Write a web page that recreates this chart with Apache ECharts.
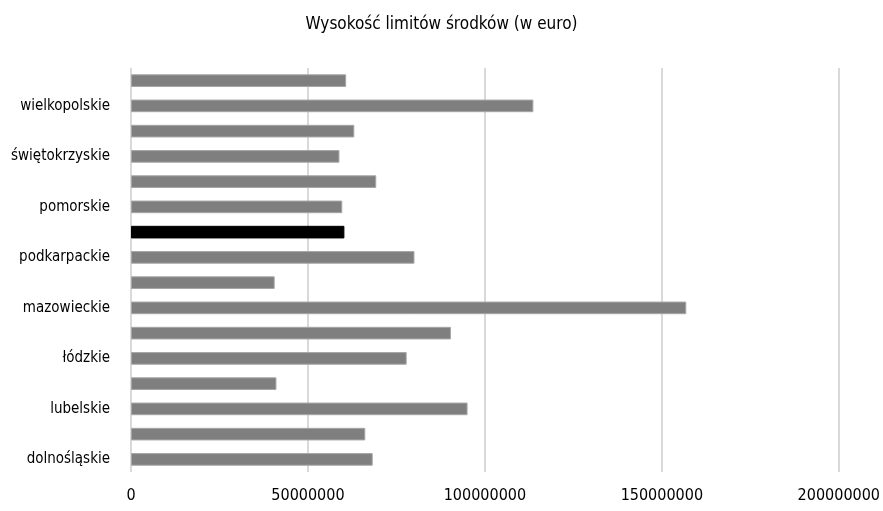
<!DOCTYPE html>
<html><head><meta charset="utf-8">
<script src="https://cdn.jsdelivr.net/npm/echarts@6/dist/echarts.min.js"></script>
<style>html,body{margin:0;padding:0;background:#fff}#c{width:883px;height:511px}</style>
</head><body><div id="c"></div>
<script>
const categories = ['dolnośląskie','kujawsko-pomorskie','lubelskie','lubuskie','łódzkie','małopolskie','mazowieckie','opolskie','podkarpackie','podlaskie','pomorskie','śląskie','świętokrzyskie','warmińsko-mazurskie','wielkopolskie','zachodniopomorskie'];
const values = [68300000,66200000,95100000,41100000,77900000,90400000,156900000,40600000,80100000,60300000,59700000,69300000,58900000,63100000,113700000,60800000];
const highlight = 'podlaskie';
const xTicks = {min:0, max:200000000, interval:50000000};
const title = 'Wysokość limitów środków (w euro)';

const FONT = '"DejaVu Sans Condensed","Liberation Sans Narrow",sans-serif';
const chart = echarts.init(document.getElementById('c'));
chart.setOption({
  animation:false,
  title:{text:title,left:'center',top:11,textStyle:{fontFamily:FONT,fontSize:17,fontWeight:'normal',color:'#000'}},
  grid:{left:131,right:43,top:68,bottom:39,containLabel:false},
  xAxis:{type:'value',min:xTicks.min,max:xTicks.max,interval:xTicks.interval,
    axisLine:{show:false},axisTick:{show:false},
    splitLine:{lineStyle:{color:'#d9d9d9',width:2}},
    axisLabel:{margin:16,fontFamily:FONT,fontSize:16,color:'#000',formatter:v=>String(v)}},
  yAxis:{type:'category',data:categories,
    axisLine:{show:false},axisTick:{show:false},
    axisLabel:{interval:1,margin:21,fontFamily:FONT,fontSize:15,color:'#000'}},
  series:[{type:'bar',barWidth:'50%',
    data:values.map((v,i)=>({value:v,itemStyle:{color:categories[i]===highlight?'#000':'#7f7f7f',borderColor:categories[i]===highlight?'#000':'#a6a6a6',borderWidth:1}}))}]
});
</script></body></html>
